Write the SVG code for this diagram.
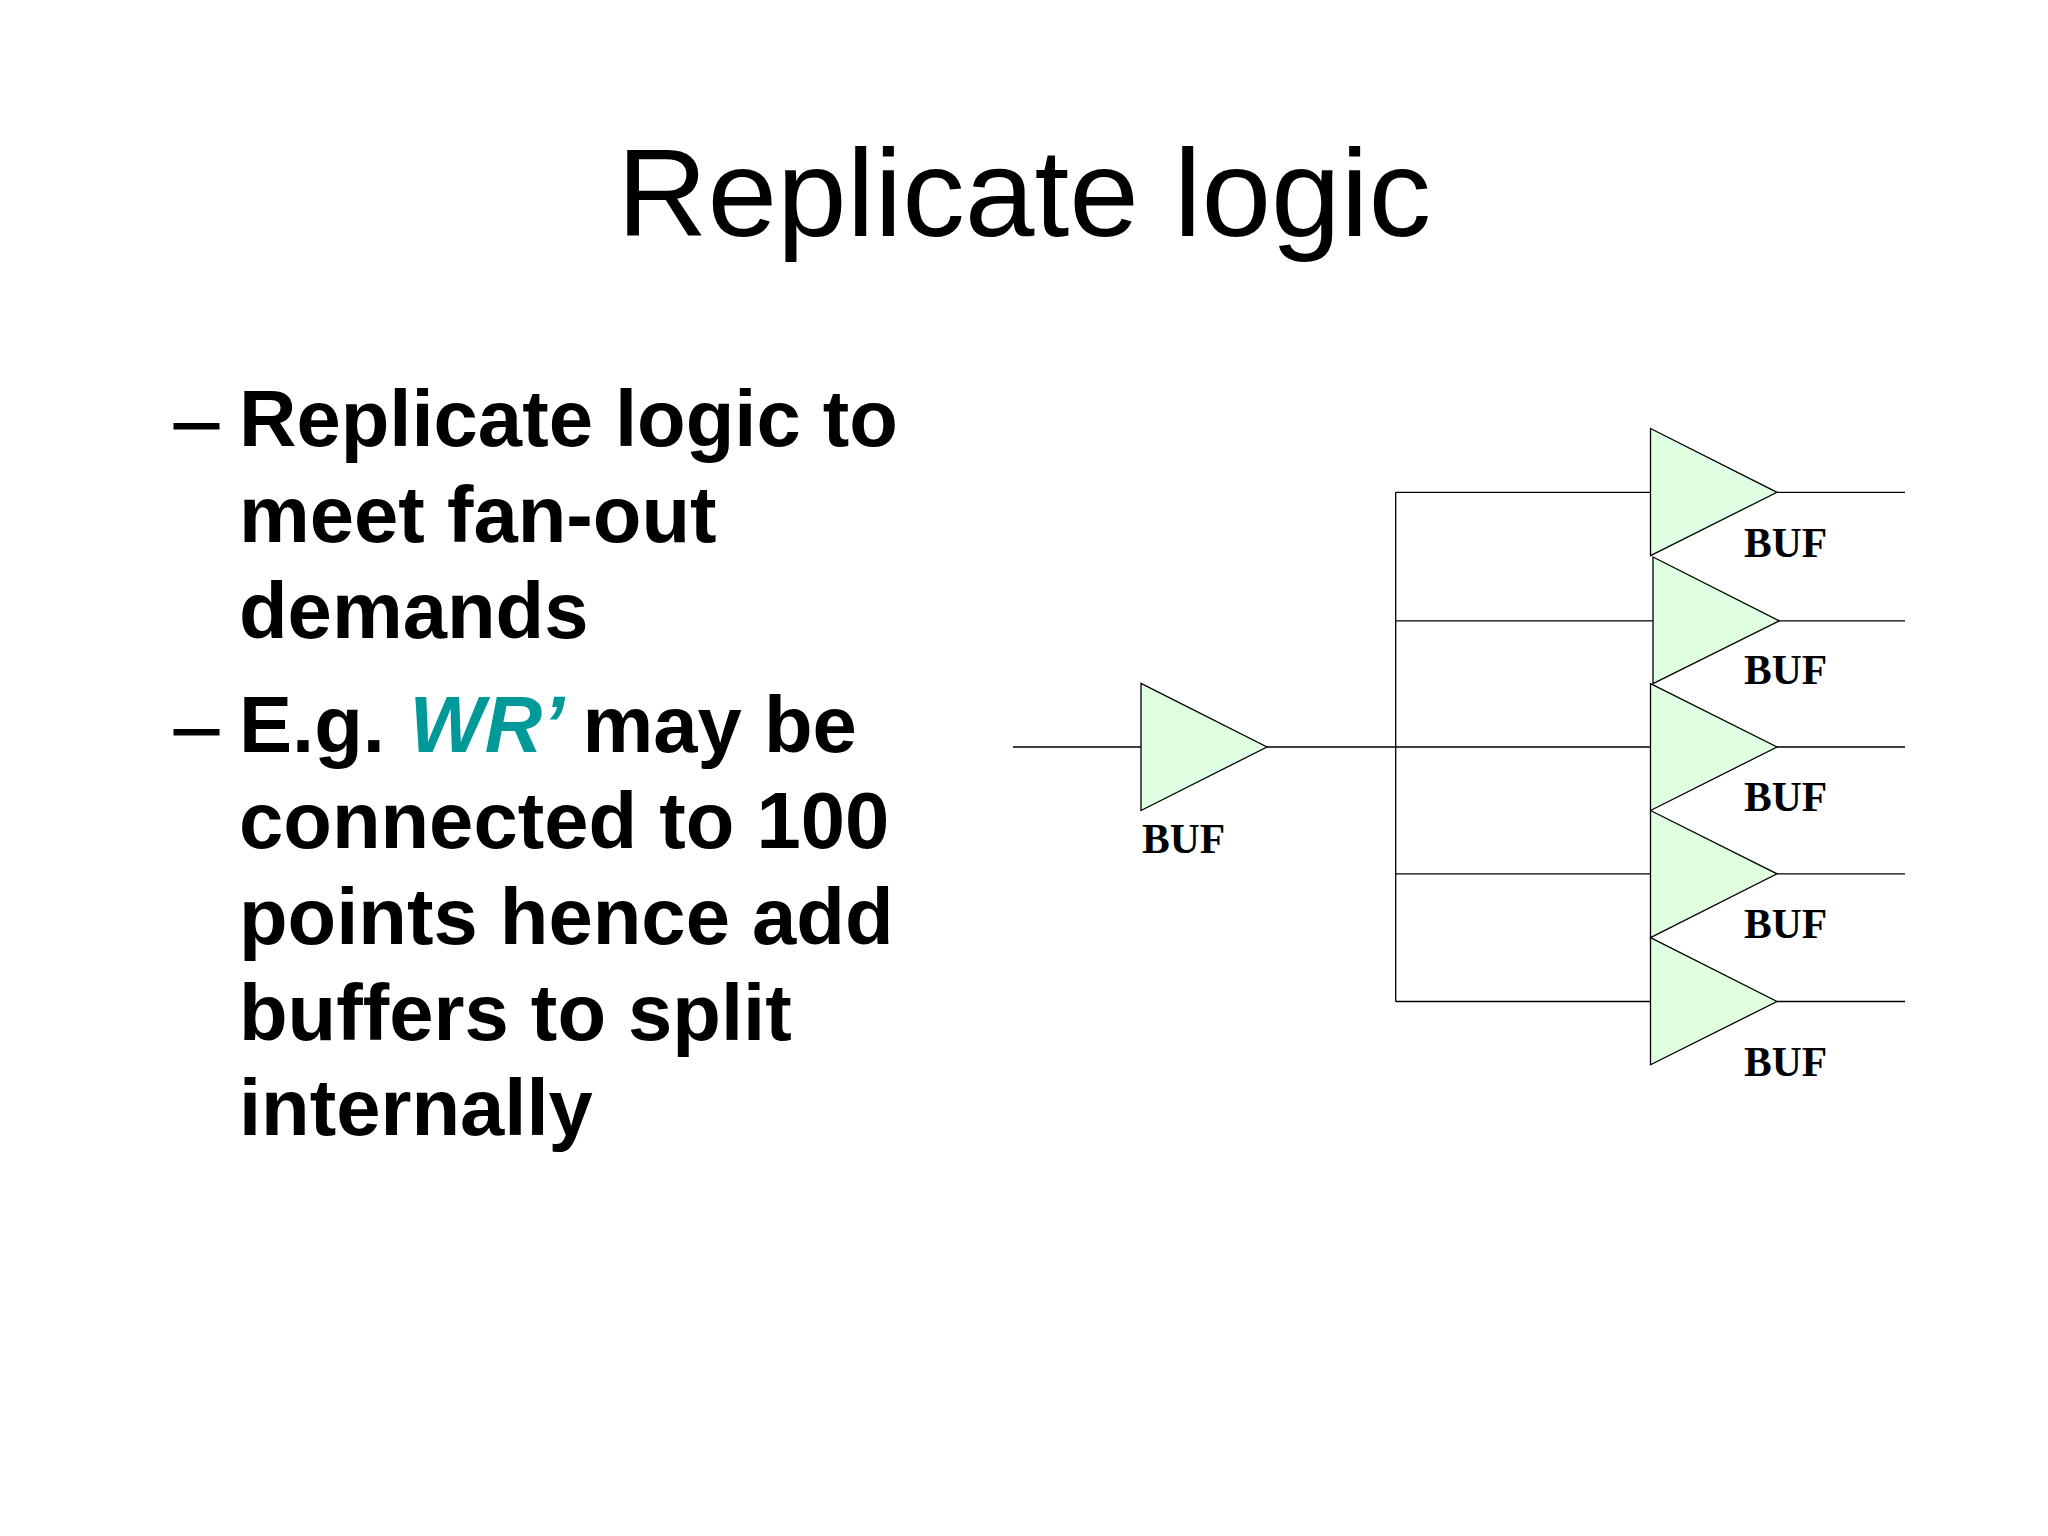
<svg xmlns="http://www.w3.org/2000/svg" width="2048" height="1536" viewBox="0 0 2048 1536">
<style>
.bg{fill:#fff}
.title{font:125.2px "Liberation Sans",Arial,sans-serif;fill:#000}
.body{font:bold 79.6px "Liberation Sans",Arial,sans-serif;fill:#000}
.dash{font:81px "Liberation Sans",Arial,sans-serif;fill:#000;stroke:#000;stroke-width:1}
.em{fill:#009999;font-style:italic}
.buf{fill:#e0ffe0;stroke:#000;stroke-width:1.3}
.lbl{font:bold 41.6px "Liberation Serif","Times New Roman",serif;fill:#000}
.wire{fill:none;stroke:#000;stroke-width:1.3}
</style>
<rect class="bg" width="2048" height="1536"/>
<g id="title"><text class="title" x="617" y="236">Replicate logic</text></g>
<g id="bullets">
<text class="dash" x="174" y="446.5">–</text>
<text class="body" x="239" y="446">Replicate logic to</text>
<text class="body" x="239" y="542">meet fan-out</text>
<text class="body" x="239" y="638">demands</text>
<text class="dash" x="174" y="752.5">–</text>
<text class="body" x="239" y="752">E.g. <tspan class="em" dx="2.5">WR’</tspan><tspan dx="-3.8"> may be</tspan></text>
<text class="body" x="239" y="848">connected to 100</text>
<text class="body" x="239" y="944">points hence add</text>
<text class="body" x="239" y="1040">buffers to split</text>
<text class="body" x="239" y="1135">internally</text>
</g>
<g id="connectors">
<path class="wire" d="M1013 747H1141M1267 747H1650.5M1395.7 492.3V1001.5M1395.7 492.3H1650.5M1395.7 620.8H1653M1395.7 873.8H1650.5M1395.7 1001.5H1650.5M1777 492.3H1905M1779.3 620.8H1905M1777 747H1905M1777 873.8H1905M1777 1001.5H1905"/>
</g>
<g id="buf0"><polygon class="buf" points="1141,683.3 1267,747 1141,810.5"/><text class="lbl" x="1142" y="853">BUF</text></g>
<g id="buf1"><polygon class="buf" points="1650.5,428.5 1777,492.3 1650.5,555.6"/><text class="lbl" x="1744" y="557">BUF</text></g>
<g id="buf2"><polygon class="buf" points="1653,557 1779.3,620.8 1653,683.7"/><text class="lbl" x="1744" y="684">BUF</text></g>
<g id="buf3"><polygon class="buf" points="1650.5,683.7 1777,747 1650.5,810.5"/><text class="lbl" x="1744" y="811">BUF</text></g>
<g id="buf4"><polygon class="buf" points="1650.5,810.5 1777,873.8 1650.5,937.6"/><text class="lbl" x="1744" y="938">BUF</text></g>
<g id="buf5"><polygon class="buf" points="1650.5,937.6 1777,1001.5 1650.5,1064.8"/><text class="lbl" x="1744" y="1076">BUF</text></g>
</svg>
